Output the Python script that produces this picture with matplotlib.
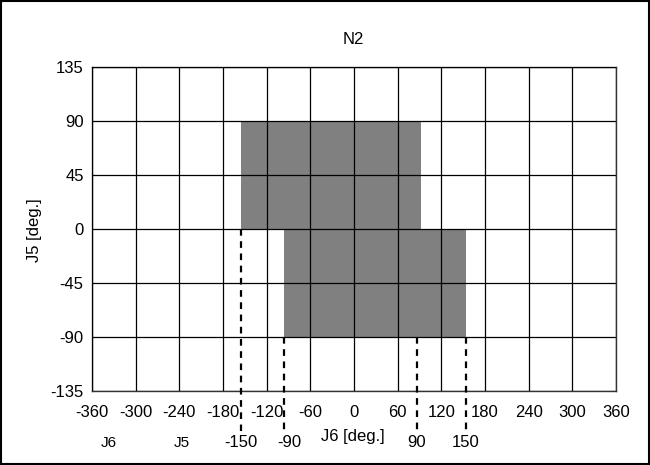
import matplotlib
matplotlib.use("Agg")
import matplotlib.pyplot as plt
from matplotlib.patches import Rectangle

plt.rcParams['font.family'] = ['Liberation Sans', 'DejaVu Sans']

# Data
x_ticks = [-360, -300, -240, -180, -120, -60, 0, 60, 120, 180, 240, 300, 360]
y_ticks = [-135, -90, -45, 0, 45, 90, 135]
# regions: (x_start, x_end, y_start, y_end)
region_x0 = [-155.7, -95.7]
region_x1 = [92.0, 153.5]
region_y0 = [0, -90]
region_y1 = [90, 0]
# dashed limit markers
limit_x = [-155.7, -95.7, 86.0, 153.5]
limit_y_top = [0, -90, -90, -90]
limit_labels = ["-150", "-90", "90", "150"]

fig = plt.figure(figsize=(6.5, 4.65), dpi=100)
ax = fig.add_axes([92/650, 1-391/465, (616-92)/650, (391-67)/465])

for x0, x1, y0, y1 in zip(region_x0, region_x1, region_y0, region_y1):
    ax.add_patch(Rectangle((x0, y0), x1-x0, y1-y0, facecolor='#808080',
                           edgecolor='none', zorder=1))

ax.set_xlim(-360, 360)
ax.set_ylim(-135, 135)
ax.set_xticks(x_ticks)
ax.set_yticks(y_ticks)
ax.set_xticklabels([str(v) for v in x_ticks])
ax.set_yticklabels([str(v) for v in y_ticks])
ax.tick_params(length=0, labelsize=12)
ax.tick_params(axis='x', pad=10)
ax.tick_params(axis='y', pad=6)
ax.set_axisbelow(False)
ax.grid(True, color='black', linewidth=0.9)
for s in ax.spines.values():
    s.set_color('#333333')
    s.set_linewidth(1.0)

# dashed markers extending below axes
y_bottom = -135 - (431-391)/54*45
for xv, yt in zip(limit_x, limit_y_top):
    ax.plot([xv, xv], [yt, y_bottom], color='black', linewidth=1.6,
            linestyle=(0, (3, 2.5)), clip_on=False, zorder=3)

label_px = [241, 289, 417, 466]
for px, lab in zip(label_px, limit_labels):
    fig.text(px/650, 1-442/465, lab, ha='center', va='center', fontsize=12)

fig.text(109/650, 1-443/465, "J6", ha='center', va='center', fontsize=11)
fig.text(182/650, 1-443/465, "J5", ha='center', va='center', fontsize=11)
fig.text(353/650, 1-436/465, "J6 [deg.]", ha='center', va='center', fontsize=12)
fig.text(35/650, 1-230/465, "J5 [deg.]", ha='center', va='center', fontsize=12,
         rotation=90)
fig.text(353/650, 1-40/465, "N2", ha='center', va='center', fontsize=12)

fig.patches.append(Rectangle((0.002, 0.003), 0.996, 0.994, transform=fig.transFigure,
                             fill=False, edgecolor='black', linewidth=1.5))

fig.savefig("out.png", dpi=100)
